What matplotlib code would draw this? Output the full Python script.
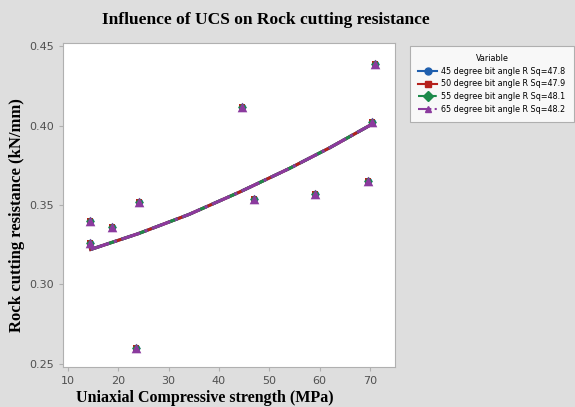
import numpy as np
import matplotlib.pyplot as plt

# measured points (same for all 4 bit angles, they overlap)
ucs = [14.4, 14.4, 18.7, 23.5, 24.2, 44.6, 47.0, 59.0, 69.6, 70.5, 71.1]
resistance = [0.340, 0.326, 0.336, 0.260, 0.352, 0.412, 0.354, 0.357, 0.365, 0.402, 0.439]

# fitted line
fit_x = [14.5, 24, 34, 44, 54, 62, 70.5]
fit_y = [0.322, 0.332, 0.344, 0.358, 0.373, 0.386, 0.401]

labels = ["45 degree bit angle R Sq=47.8",
          "50 degree bit angle R Sq=47.9",
          "55 degree bit angle R Sq=48.1",
          "65 degree bit angle R Sq=48.2"]
colors = ["#1f5fae", "#b5211c", "#1c8a4a", "#8b3a9e"]
markers = ["o", "s", "D", "^"]
styles = ["-", "-", "--", "-."]
sizes = [30, 18, 20, 48]

bg = "#dedede"
fig = plt.figure(figsize=(5.75, 4.07), dpi=100, facecolor=bg)
ax = fig.add_axes([63/575, 1 - 367/407, 332/575, 324/407])
ax.set_facecolor("white")

for i in range(4):
    ax.plot(fit_x, fit_y, color=colors[i], linestyle=styles[i], linewidth=2.2, zorder=2 + i)
    ax.scatter(ucs, resistance, color=colors[i], marker=markers[i], s=sizes[i],
               linewidths=0, zorder=6 + i)

ax.set_xlim(9, 75)
ax.set_ylim(0.248, 0.452)
ax.set_xticks([10, 20, 30, 40, 50, 60, 70])
ax.set_yticks([0.25, 0.30, 0.35, 0.40, 0.45])
ax.set_yticklabels(["0.25", "0.30", "0.35", "0.40", "0.45"])
ax.tick_params(colors="#b0b0b0", labelcolor="#505050", labelsize=8, length=3)
for s in ax.spines.values():
    s.set_color("#b0b0b0")

fig.text(266/575, 1 - 20/407, "Influence of UCS on Rock cutting resistance",
         ha="center", va="center", family="Liberation Serif", weight="bold", fontsize=12.5)
fig.text(17/575, 1 - 215/407, "Rock cutting resistance (kN/mm)", rotation=90,
         ha="center", va="center", family="Liberation Serif", weight="bold", fontsize=12)
fig.text(205/575, 1 - 398/407, "Uniaxial Compressive strength (MPa)",
         ha="center", va="center", family="Liberation Serif", weight="bold", fontsize=11.5)

# legend panel
handles = [plt.Line2D([], [], color=colors[i], linestyle=styles[i], marker=markers[i],
                      markersize=5, linewidth=1.5) for i in range(4)]
leg = fig.legend(handles, labels, title="Variable", loc="upper left",
                 bbox_to_anchor=(406/575, 1 - 42/407), fontsize=5.8, title_fontsize=5.8,
                 frameon=True, fancybox=False, edgecolor="#a0a0a0", handlelength=2.4,
                 handletextpad=0.5, borderpad=1.0, labelspacing=0.45)
leg.get_frame().set_linewidth(0.8)

fig.savefig("out.png", dpi=100, facecolor=bg)
